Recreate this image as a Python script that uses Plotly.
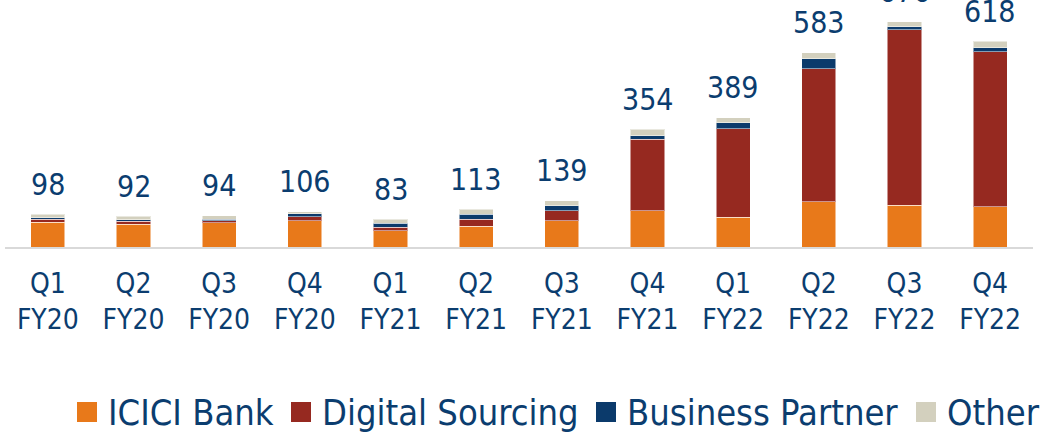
import plotly.graph_objects as go

quarters = ["Q1<br>FY20", "Q2<br>FY20", "Q3<br>FY20", "Q4<br>FY20",
            "Q1<br>FY21", "Q2<br>FY21", "Q3<br>FY21", "Q4<br>FY21",
            "Q1<br>FY22", "Q2<br>FY22", "Q3<br>FY22", "Q4<br>FY22"]
icici_bank = [74, 69, 73, 79, 49, 63, 79, 109, 90, 136, 125, 121]
digital_sourcing = [10, 8, 6, 12, 10, 21, 30, 215, 266, 400, 528, 465]
business_partner = [4, 5, 5, 9, 12, 15, 15, 10, 18, 30, 9, 12]
other = [10, 10, 10, 6, 12, 14, 15, 20, 15, 17, 14, 20]
totals = [98, 92, 94, 106, 83, 113, 139, 354, 389, 583, 676, 618]

FONT = "Liberation Sans Narrow, DejaVu Sans Condensed, Open Sans, sans-serif"
TEXT = "#0B3D6F"
W, H = 1043, 432
ML, MR = 5, 10

series = [
    ("ICICI Bank", icici_bank, "#E8791A"),
    ("Digital Sourcing", digital_sourcing, "#962920"),
    ("Business Partner", business_partner, "#0B3A6B"),
    ("Other", other, "#D3D0BE"),
]

fig = go.Figure()
for name, vals, col in series:
    fig.add_trace(go.Bar(
        x=quarters, y=vals, name=name, showlegend=False,
        marker=dict(color=col, line=dict(color="rgba(255,255,255,0.5)", width=1)),
    ))

for q, t in zip(quarters, totals):
    fig.add_annotation(x=q, y=t, text=str(t), showarrow=False, yshift=30,
                       yanchor="middle", font=dict(size=30, color=TEXT, family=FONT))

# Legend drawn as swatches + labels (layout positions in pixels)
legend_left_px = [77, 291, 596, 916]
swatch_px, text_gap_px = 20, 10
legend_mid_px = 412
pw = W - ML - MR
for (name, _, col), lx in zip(series, legend_left_px):
    x0 = (lx - ML) / pw
    x1 = (lx + swatch_px - ML) / pw
    fig.add_shape(type="rect", xref="paper", yref="paper",
                  x0=x0, x1=x1,
                  y0=(H - legend_mid_px - swatch_px / 2) / H,
                  y1=(H - legend_mid_px + swatch_px / 2) / H,
                  fillcolor=col, line=dict(width=0))
    fig.add_annotation(xref="paper", yref="paper",
                       x=(lx + swatch_px + text_gap_px - 1 - ML) / pw,
                       y=(H - legend_mid_px) / H, xanchor="left", yanchor="middle",
                       text=name, showarrow=False,
                       font=dict(size=36, color=TEXT, family=FONT))

fig.update_layout(
    barmode="stack", bargap=0.6,
    width=W, height=H, showlegend=False,
    margin=dict(l=ML, r=MR, t=0, b=0),
    plot_bgcolor="white", paper_bgcolor="white",
    font=dict(family=FONT, color=TEXT),
    xaxis=dict(showline=True, linecolor="#D9D9D9", linewidth=2, showgrid=False,
               tickfont=dict(size=28, color=TEXT, family=FONT),
               ticks="outside", ticklen=10, tickcolor="rgba(0,0,0,0)",
               range=[-0.5, 11.5], automargin=False),
    yaxis=dict(visible=False, range=[0, 742], showgrid=False, domain=[0.428, 1]),
)

fig.write_html("out.html", config={"displayModeBar": False},
               post_script="document.body.style.margin='0';")
